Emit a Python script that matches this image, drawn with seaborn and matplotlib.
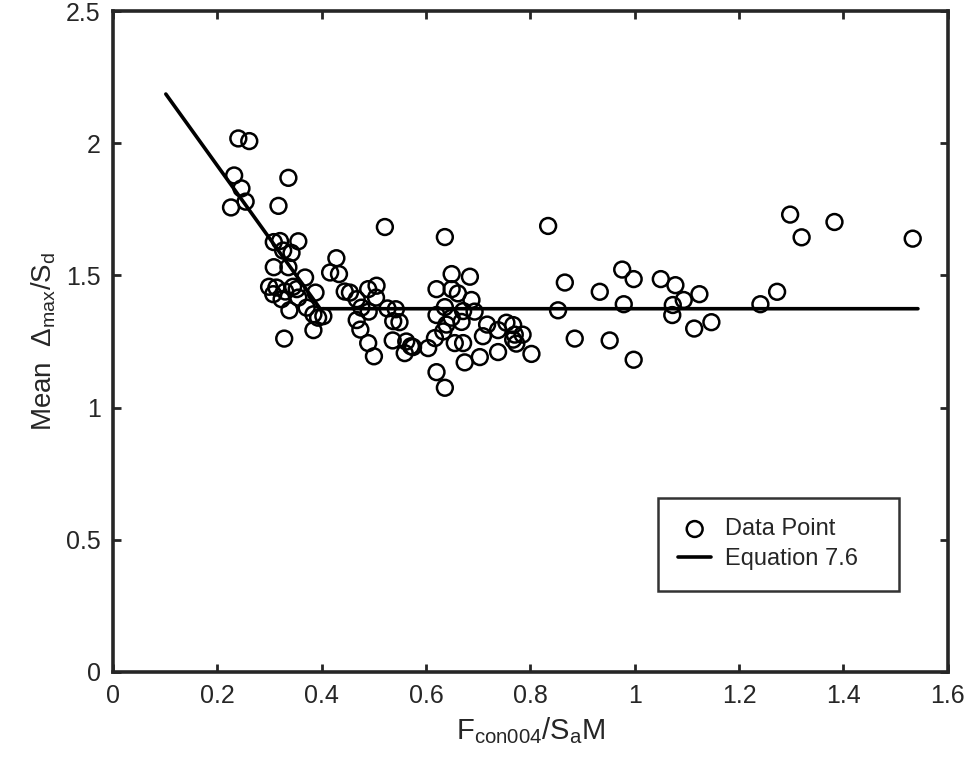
import numpy as np
import pandas as pd
import matplotlib
matplotlib.use("Agg")
import matplotlib.pyplot as plt
import seaborn as sns

# Messpunkte
x_pts = [0.240, 0.261, 0.232, 0.336, 0.246, 0.254, 0.226, 0.317, 0.521, 0.308,
         0.320, 0.355, 0.326, 0.342, 0.428, 0.308, 0.336, 0.416, 0.433, 0.368,
         0.299, 0.313, 0.345, 0.444, 0.454, 0.505, 0.489, 0.307, 0.330, 0.352,
         0.388, 0.323, 0.355, 0.467, 0.504, 0.338, 0.371, 0.476, 0.490, 0.384,
         0.526, 0.542, 0.393, 0.403, 0.467, 0.537, 0.549, 0.474, 0.384, 0.328,
         0.489, 0.536, 0.559, 0.571, 0.500,
         0.636, 0.834, 0.649, 0.684, 0.620, 0.649, 0.661, 0.687, 0.866, 0.933,
         0.976, 0.998, 1.050, 1.078, 1.094, 1.124, 1.073, 1.072, 1.114, 0.979,
         0.853, 0.885, 0.952, 0.998, 0.636, 0.620, 0.671, 0.693, 0.649, 0.668,
         0.639, 0.633, 0.717, 0.754, 0.767, 0.738, 0.709, 0.617, 0.770, 0.785,
         0.767, 0.773, 0.655, 0.671, 0.562, 0.575, 0.604, 0.738, 0.703, 0.674,
         0.802, 0.620, 0.636,
         1.298, 1.320, 1.383, 1.533, 1.273, 1.241, 1.147]
y_pts = [2.018, 2.008, 1.878, 1.869, 1.829, 1.779, 1.757, 1.763, 1.683, 1.626,
         1.630, 1.629, 1.594, 1.585, 1.565, 1.531, 1.531, 1.511, 1.505, 1.492,
         1.457, 1.454, 1.457, 1.439, 1.435, 1.461, 1.448, 1.429, 1.439, 1.448,
         1.435, 1.410, 1.416, 1.410, 1.416, 1.368, 1.378, 1.378, 1.363, 1.353,
         1.375, 1.372, 1.340, 1.346, 1.331, 1.327, 1.323, 1.295, 1.293, 1.261,
         1.244, 1.254, 1.206, 1.232, 1.194,
         1.645, 1.687, 1.505, 1.495, 1.448, 1.448, 1.432, 1.407, 1.473, 1.438,
         1.522, 1.486, 1.486, 1.463, 1.407, 1.429, 1.388, 1.350, 1.299, 1.391,
         1.368, 1.261, 1.254, 1.181, 1.380, 1.350, 1.365, 1.363, 1.340, 1.324,
         1.314, 1.288, 1.314, 1.321, 1.312, 1.293, 1.270, 1.263, 1.276, 1.276,
         1.257, 1.242, 1.244, 1.244, 1.250, 1.229, 1.225, 1.210, 1.191, 1.171,
         1.203, 1.134, 1.075,
         1.730, 1.644, 1.702, 1.639, 1.438, 1.391, 1.323]

# Gleichung 7.6 (bilineare Kurve)
x_eq = [0.101, 0.397, 1.543]
y_eq = [2.186, 1.374, 1.374]

punkte = pd.DataFrame({"x": x_pts, "y": y_pts})
gleichung = pd.DataFrame({"x": x_eq, "y": y_eq})

sns.set_style("ticks")
plt.rcParams["font.family"] = ["Liberation Sans", "DejaVu Sans"]
plt.rcParams["mathtext.fontset"] = "custom"
plt.rcParams["mathtext.rm"] = "Liberation Sans"
plt.rcParams["mathtext.it"] = "Liberation Sans"

fig = plt.figure(figsize=(9.67, 7.65), dpi=100)
ax = fig.add_axes([0.117, 0.1216, 0.863, 0.864])

sns.scatterplot(data=punkte, x="x", y="y", ax=ax, marker="o", s=130,
                facecolor="none", edgecolor="black", linewidth=1.8,
                label="Data Point", zorder=3)
sns.lineplot(data=gleichung, x="x", y="y", ax=ax, color="black",
             linewidth=2.6, label="Equation 7.6", sort=False, zorder=2)

ax.set_xlim(0, 1.6)
ax.set_ylim(0, 2.5)
ax.set_xticks(np.arange(0, 1.61, 0.2))
ax.set_xticklabels(["0", "0.2", "0.4", "0.6", "0.8", "1", "1.2", "1.4", "1.6"], fontsize=18)
ax.set_yticks(np.arange(0, 2.51, 0.5))
ax.set_yticklabels(["0", "0.5", "1", "1.5", "2", "2.5"], fontsize=18)
ax.tick_params(direction="in", length=6, width=2, labelsize=18,
               top=True, right=True, pad=9)
for s in ax.spines.values():
    s.set_linewidth(2.6)

ax.set_xlabel(r"F$_{\mathrm{con004}}$/S$_{\mathrm{a}}$M", fontsize=21, labelpad=5)
ax.set_ylabel(r"Mean  $\Delta_{\mathrm{max}}$/S$_{\mathrm{d}}$", fontsize=20, labelpad=6)

h = 100 / 661
leg = ax.legend(loc="upper left", bbox_to_anchor=(0.653, 0.263 - h, 0.289, h),
                mode="expand", borderaxespad=0, fontsize=17,
                frameon=True, fancybox=False, edgecolor="black",
                handlelength=1.4, borderpad=0.85, labelspacing=0.35,
                handletextpad=0.6)
leg.get_frame().set_linewidth(1.8)

fig.savefig("out.png", dpi=100)
plt.close()
